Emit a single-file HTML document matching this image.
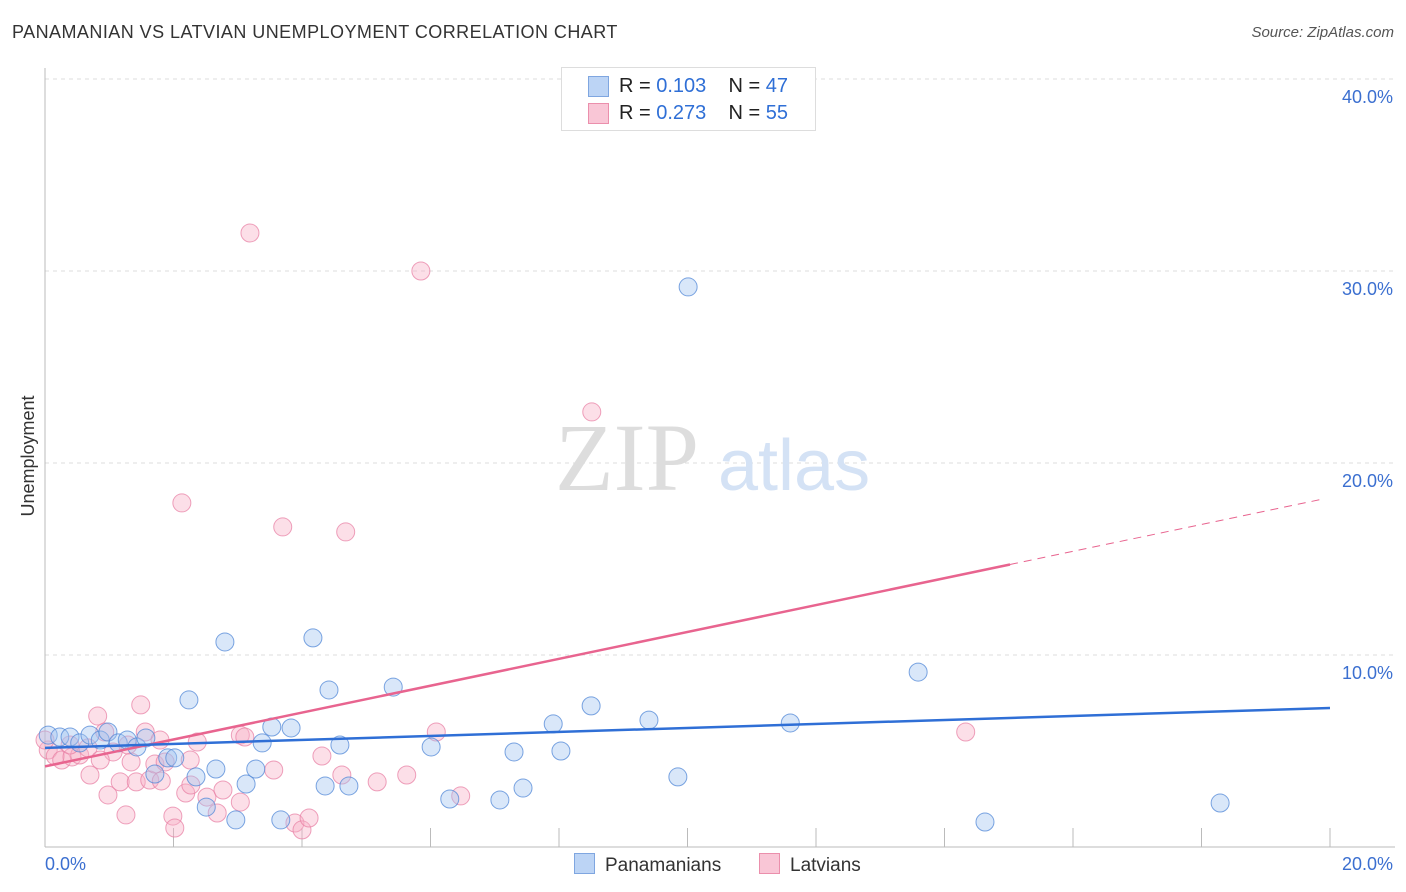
<!DOCTYPE html>
<html><head><meta charset="utf-8"><style>
body{margin:0;background:#fff;font-family:"Liberation Sans",sans-serif;}
#wrap{position:relative;width:1406px;height:892px;overflow:hidden;}
.t{position:absolute;white-space:nowrap;}
</style></head><body>
<div id="wrap">
<div class="t" style="left:12px;top:22px;font-size:18px;letter-spacing:0.45px;color:#333;">PANAMANIAN VS LATVIAN UNEMPLOYMENT CORRELATION CHART</div>
<div class="t" style="right:12px;top:24px;font-size:15px;color:#555;font-style:italic;">Source: ZipAtlas.com</div>
<svg id="svg" width="1406" height="892" style="position:absolute;left:0;top:0"></svg>
</div>
<script>
const xTickLabels=["0.0%","20.0%"];
const yTicks=[10,20,30,40];
const blueX=[0.05,0.23,0.39,0.54,0.70,0.86,0.98,1.14,1.28,1.43,1.57,1.71,1.91,2.02,2.24,2.35,2.51,2.66,2.80,2.97,3.13,3.28,3.38,3.53,3.67,3.83,4.17,4.36,4.42,4.59,4.73,5.42,6.01,6.30,7.08,7.30,7.44,7.91,8.03,8.50,9.40,9.85,10.01,11.60,13.59,14.63,18.29];
const blueY=[5.83,5.73,5.73,5.42,5.83,5.57,5.99,5.42,5.57,5.21,5.68,3.80,4.64,4.64,7.66,3.65,2.08,4.06,10.68,1.41,3.28,4.06,5.42,6.25,1.41,6.20,10.89,3.18,8.18,5.31,3.18,8.33,5.21,2.50,2.45,4.95,3.07,6.41,5.00,7.35,6.61,3.65,29.17,6.46,9.11,1.30,2.29];
const pinkX=[0.05,0.16,0.26,0.42,0.54,0.67,0.70,0.82,0.93,0.98,1.06,1.17,1.26,1.34,1.42,1.49,1.56,1.63,1.71,1.81,1.87,1.99,2.02,2.13,2.19,2.27,2.37,2.52,2.68,2.77,3.04,3.04,3.11,3.19,3.56,3.70,3.89,4.00,4.11,4.31,4.62,4.68,5.17,5.63,5.85,6.09,6.47,8.51,14.33,0.00,0.39,0.86,1.29,1.79,2.26];
const pinkY=[5.05,4.74,4.53,4.69,4.79,5.16,3.75,6.82,5.99,2.71,4.95,3.39,1.67,4.43,3.39,7.40,5.99,3.49,4.32,3.44,4.43,1.61,0.99,17.92,2.81,3.23,5.47,2.60,1.77,2.97,2.34,5.83,5.73,31.98,4.01,16.67,1.25,0.89,1.51,4.74,3.75,16.41,3.39,3.75,30.00,5.99,2.66,22.66,5.99,5.57,5.31,4.53,5.31,5.57,4.53];
const blueTrend=[5.16,7.24];
const pinkTrend=[4.2,18.2];
const pinkSolidEnd=15.02;

const X=v=>45+v*64.25, Y=v=>847-v*19.2;
const svg=document.getElementById('svg'),NS='http://www.w3.org/2000/svg';
function mk(tag,attrs,parent){const e=document.createElementNS(NS,tag);for(const k in attrs)e.setAttribute(k,attrs[k]);(parent||svg).appendChild(e);return e;}
yTicks.forEach(v=>{
 const g=mk('line',{x1:45,x2:1395,y1:Y(v),y2:Y(v),stroke:'#dcdcdc','stroke-dasharray':'4,4'});
 
 
 const t=mk('text',{x:1393,y:Y(v)+24,'text-anchor':'end','font-size':18,fill:'#3b6fd0','font-family':'Liberation Sans, sans-serif'});
 t.textContent=v.toFixed(1)+'%';
 
 
});
let a=mk('line',{x1:45,x2:45,y1:68,y2:847,stroke:'#bbb'});


a=mk('line',{x1:45,x2:1395,y1:847,y2:847,stroke:'#bbb'});


for(let k=1;k<=10;k++){const tk=mk('line',{x1:X(k*2),x2:X(k*2),y1:828,y2:847,stroke:'#bbb'});
 
 }
[[0,'start',45],[1,'end',1393]].forEach(([i,an,x])=>{const t=mk('text',{x:x,y:870,'text-anchor':an,'font-size':18,fill:'#3b6fd0','font-family':'Liberation Sans, sans-serif'});t.textContent=xTickLabels[i];
 
 });
let yt=mk('text',{x:0,y:0,transform:'translate(34,456) rotate(-90)','text-anchor':'middle','font-size':18,fill:'#333','font-family':'Liberation Sans, sans-serif'});
yt.textContent='Unemployment';


let w=mk('text',{x:555,y:490,'font-size':96,fill:'#ddd','font-family':'Liberation Serif, serif'});w.textContent='ZIP';


w=mk('text',{x:718,y:490,'font-size':72,fill:'#d4e2f5','font-family':'Liberation Sans, sans-serif'});w.textContent='atlas';


pinkX.forEach((x,i)=>{const c=mk('circle',{cx:X(x),cy:Y(pinkY[i]),r:9,fill:'rgba(248,175,198,0.4)',stroke:'rgba(232,130,165,0.75)','stroke-width':1});
 
 });
blueX.forEach((x,i)=>{const c=mk('circle',{cx:X(x),cy:Y(blueY[i]),r:9,fill:'rgba(160,195,240,0.4)',stroke:'rgba(80,135,215,0.75)','stroke-width':1});
 
 });
const ps=(pinkTrend[1]-pinkTrend[0])/20;
let l=mk('line',{x1:X(0),y1:Y(pinkTrend[0]),x2:X(pinkSolidEnd),y2:Y(pinkTrend[0]+ps*pinkSolidEnd),stroke:'#e8648f','stroke-width':2.5});


l=mk('line',{x1:X(pinkSolidEnd),y1:Y(pinkTrend[0]+ps*pinkSolidEnd),x2:X(19.9),y2:Y(pinkTrend[0]+ps*19.9),stroke:'#e8648f','stroke-width':1,'stroke-dasharray':'8,6'});


l=mk('line',{x1:X(0),y1:Y(blueTrend[0]),x2:X(20),y2:Y(blueTrend[1]),stroke:'#2f6fd6','stroke-width':2.5});


</script>
<div class="t" style="left:561px;top:67px;width:253px;height:62px;border:1px solid #ddd;background:#fff;font-size:20px;">
 <div style="position:absolute;left:26px;top:8px;width:19px;height:19px;background:#bcd4f5;border:1px solid #7fa6e0"></div>
 <div class="t" style="left:57px;top:7px;color:#222">R = <span style="color:#2f6fd6">0.103</span>&nbsp;&nbsp;&nbsp; N = <span style="color:#2f6fd6">47</span></div>
 <div style="position:absolute;left:26px;top:35px;width:19px;height:19px;background:#f9c6d6;border:1px solid #eb8fac"></div>
 <div class="t" style="left:57px;top:34px;color:#222">R = <span style="color:#2f6fd6">0.273</span>&nbsp;&nbsp;&nbsp; N = <span style="color:#2f6fd6">55</span></div>
</div>
<div class="t" style="left:574px;top:853px;font-size:19px;color:#333"><span style="display:inline-block;width:19px;height:19px;background:#bcd4f5;border:1px solid #7fa6e0;vertical-align:-3px;margin-right:10px"></span>Panamanians</div>
<div class="t" style="left:759px;top:853px;font-size:19px;color:#333"><span style="display:inline-block;width:19px;height:19px;background:#f9c6d6;border:1px solid #eb8fac;vertical-align:-3px;margin-right:10px"></span>Latvians</div>
</body></html>
